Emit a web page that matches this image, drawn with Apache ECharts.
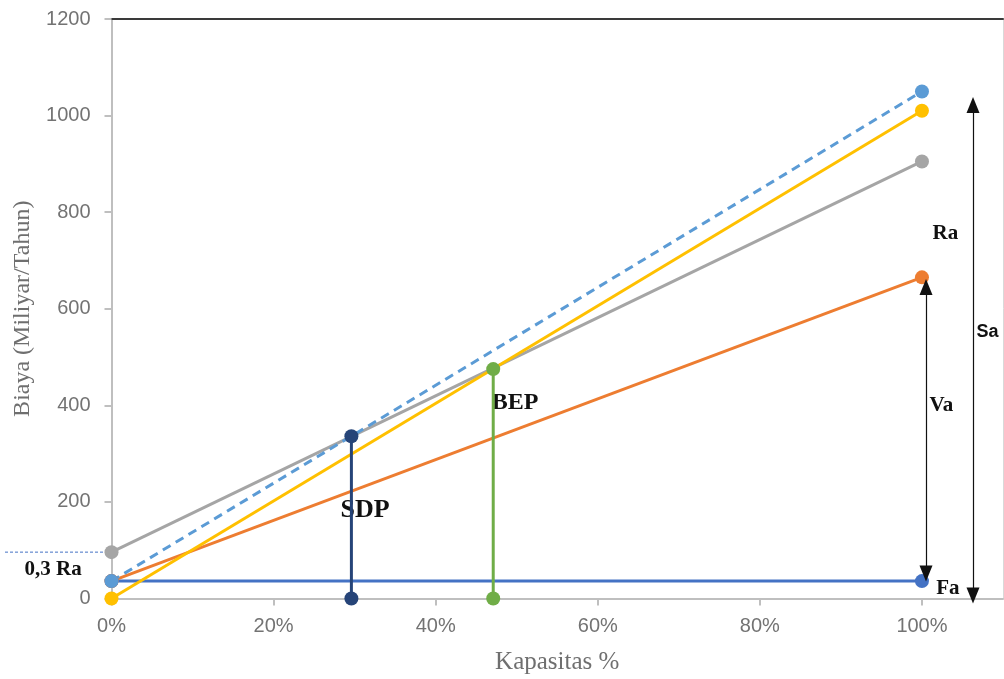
<!DOCTYPE html>
<html><head><meta charset="utf-8">
<script src="https://cdn.jsdelivr.net/npm/echarts@6/dist/echarts.min.js"></script>
<style>html,body{margin:0;padding:0;background:#fff}#c{width:1004px;height:679px}</style>
</head><body><div id="c"></div>
<script>
// ---- data ----
const kapasitas = [0, 1];
const faValues = [36, 36];            // Fa (fixed cost)
const vaValues = [36, 665];           // Fa + Va
const totalCost = [96, 905];          // gray
const revenue = [0, 1010];            // yellow
const salesLine = [36, 1050];         // dashed
const sdpX = 0.296, sdpValues = [0, 336];
const bepX = 0.471, bepValues = [0, 475];
const xTicks = [0, 0.2, 0.4, 0.6, 0.8, 1.0];

const pts = (xs, ys) => xs.map((x, i) => [x, ys[i]]);
const chart = echarts.init(document.getElementById('c'));
const serif = '"Liberation Serif", "Times New Roman", serif';
const sans = '"Liberation Sans", Arial, sans-serif';
function lineSeries(name, data, color, opts) {
  return Object.assign({
    name, type: 'line', data, clip: false,
    symbol: 'circle', symbolSize: 14,
    lineStyle: { color, width: 3 }, itemStyle: { color },
    emphasis: { disabled: true }, animation: false
  }, opts || {});
}
chart.setOption({
  animation: false,
  grid: { left: 111.5, right: 1, top: 19, bottom: 80.5, outerBoundsMode: 'none', containLabel: false },
  xAxis: [{
    type: 'value', min: 0, max: 1.1, interval: 0.2,
    name: 'Kapasitas %', nameLocation: 'middle', nameGap: 51,
    nameTextStyle: { fontFamily: serif, fontSize: 25, color: '#6f6f6f' },
    axisLine: { show: true, onZero: false, lineStyle: { color: '#bfbfbf', width: 2 } },
    axisTick: { show: true, length: 7, lineStyle: { color: '#bfbfbf', width: 2 }, customValues: xTicks },
    axisLabel: { customValues: xTicks, formatter: v => Math.round(v * 100) + '%', margin: 18,
      fontFamily: sans, fontSize: 20, color: '#737373' },
    splitLine: { show: false }
  }, {
    type: 'value', min: 0, max: 1.1, position: 'top',
    axisLine: { show: true, onZero: false, lineStyle: { color: '#3a3a3a', width: 2 } },
    axisTick: { show: false }, axisLabel: { show: false }, splitLine: { show: false }
  }],
  yAxis: [{
    type: 'value', min: 0, max: 1200, interval: 200,
    name: 'Biaya (Miliyar/Tahun)', nameLocation: 'middle', nameGap: 74,
    nameTextStyle: { fontFamily: serif, fontSize: 24, color: '#6f6f6f' },
    axisLine: { show: true, onZero: false, lineStyle: { color: '#bfbfbf', width: 2 } },
    axisTick: { show: true, length: 7, lineStyle: { color: '#bfbfbf', width: 2 } },
    axisLabel: { margin: 21, formatter: v => String(v), fontFamily: sans, fontSize: 20, color: '#737373' },
    splitLine: { show: false }
  }, {
    type: 'value', min: 0, max: 1200, position: 'right',
    axisLine: { show: true, onZero: false, lineStyle: { color: '#d9d9d9', width: 1 } },
    axisTick: { show: false }, axisLabel: { show: false }, splitLine: { show: false }
  }],
  series: [
    lineSeries('Fa', pts(kapasitas, faValues), '#4472C4'),
    lineSeries('Va', pts(kapasitas, vaValues), '#ED7D31'),
    lineSeries('Total', pts(kapasitas, totalCost), '#A5A5A5'),
    lineSeries('Revenue', pts(kapasitas, revenue), '#FFC000'),
    lineSeries('Sales', pts(kapasitas, salesLine), '#5B9BD5', { lineStyle: { color: '#5B9BD5', width: 3, type: [9, 6] } }),
    lineSeries('SDP', pts([sdpX, sdpX], sdpValues), '#264478'),
    lineSeries('BEP', pts([bepX, bepX], bepValues), '#70AD47'),
    {
      type: 'line', data: [], silent: true,
      markLine: {
        silent: true, animation: false, symbol: ['triangle', 'triangle'], symbolSize: [13, 16],
        label: { show: false },
        lineStyle: { color: '#111', width: 1.2, type: 'solid' },
        data: [
          [{ coord: [1.005, 52] }, { coord: [1.005, 645] }],
          [{ coord: [1.063, 6] }, { coord: [1.063, 1022] }]
        ]
      }
    }
  ]
});

// annotations (positioned in data space)
const annotations = [
  { text: '0,3 Ra', at: [-0.072, 59], font: serif, size: 21, weight: 'bold' },
  { text: 'SDP', at: [0.313, 183], font: serif, size: 26, weight: 'bold' },
  { text: 'BEP', at: [0.498, 406], font: serif, size: 24, weight: 'bold' },
  { text: 'Ra', at: [1.029, 756], font: serif, size: 21, weight: 'bold' },
  { text: 'Va', at: [1.024, 400], font: serif, size: 21, weight: 'bold' },
  { text: 'Sa', at: [1.081, 551], font: sans, size: 18, weight: 'bold' },
  { text: 'Fa', at: [1.032, 20], font: serif, size: 21, weight: 'bold' }
];
const graphics = annotations.map(a => {
  const p = chart.convertToPixel({ gridIndex: 0 }, a.at);
  return { type: 'text', x: p[0], y: p[1], silent: true,
    style: { text: a.text, fill: '#111', font: `${a.weight} ${a.size}px ${a.font}`, align: 'center', verticalAlign: 'middle' } };
});
const refY = chart.convertToPixel({ gridIndex: 0 }, [0, totalCost[0]])[1];
const axisX = chart.convertToPixel({ gridIndex: 0 }, [0, 0])[0];
graphics.push({ type: 'line', silent: true, shape: { x1: 5, y1: refY, x2: axisX, y2: refY },
  style: { stroke: '#4472C4', lineWidth: 1, lineDash: [3, 2] }, z: -1 });
chart.setOption({ graphic: graphics });
</script></body></html>
